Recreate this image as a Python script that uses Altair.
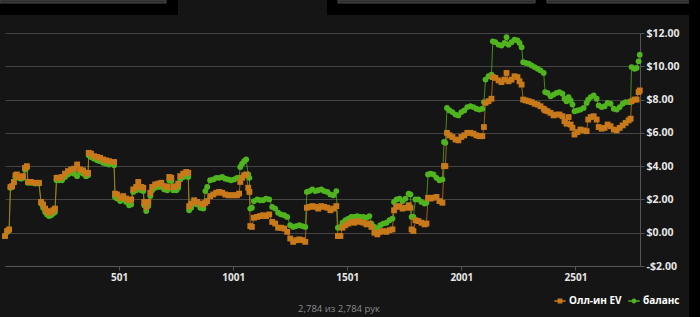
import altair as alt
import pandas as pd

# ---- data (hand number, all-in EV $, balance $) ----
hands = [1, 10, 19, 25, 32, 40, 47, 53, 62, 71, 80, 89, 97, 102, 115, 133, 150, 159, 168, 177,
         185, 194, 203, 212, 220, 227, 238, 251, 264, 277, 291, 304, 317, 330, 343, 356, 365, 368, 378, 391,
         405, 418, 431, 444, 457, 479, 483, 492, 506, 519, 532, 545, 554, 563, 576, 585, 598, 607, 611, 620,
         629, 638, 646, 659, 673, 686, 699, 712, 721, 730, 738, 752, 760, 769, 782, 795, 804, 808, 817, 830,
         843, 857, 870, 879, 887, 900, 914, 927, 940, 953, 966, 979, 992, 1005, 1018, 1027, 1032, 1040, 1049, 1058,
         1067, 1072, 1076, 1083, 1092, 1106, 1119, 1132, 1145, 1159, 1172, 1185, 1198, 1211, 1225, 1238, 1251, 1264, 1277, 1291,
         1304, 1317, 1324, 1335, 1348, 1361, 1374, 1387, 1400, 1414, 1427, 1440, 1453, 1460, 1471, 1480, 1493, 1506, 1519, 1532,
         1545, 1558, 1572, 1585, 1598, 1607, 1620, 1633, 1646, 1659, 1673, 1686, 1699, 1706, 1717, 1730, 1743, 1756, 1770, 1778,
         1783, 1791, 1800, 1813, 1826, 1840, 1848, 1855, 1866, 1879, 1892, 1905, 1918, 1925, 1931, 1938, 1949, 1962, 1975, 1988,
         2001, 2014, 2027, 2041, 2054, 2067, 2080, 2093, 2100, 2107, 2120, 2133, 2139, 2150, 2164, 2177, 2190, 2199, 2208, 2221,
         2234, 2247, 2256, 2265, 2272, 2283, 2296, 2309, 2322, 2335, 2348, 2362, 2368, 2379, 2392, 2405, 2418, 2431, 2444, 2453,
         2462, 2471, 2480, 2488, 2497, 2510, 2523, 2537, 2550, 2557, 2568, 2581, 2594, 2603, 2616, 2629, 2642, 2655, 2669, 2682,
         2695, 2708, 2721, 2734, 2743, 2747, 2760, 2769, 2778, 2783]

allin_ev = [-0.2, 0.1, 0.2, 2.75, 2.8, 3.05, 3.45, 3.5, 3.35, 3.35, 3.4, 3.9, 4.0, 3.05, 3.05, 3.0, 3.0, 1.85, 1.7, 1.45,
            1.3, 1.2, 1.25, 1.35, 1.45, 3.3, 3.3, 3.35, 3.55, 3.7, 3.8, 3.85, 4.1, 3.8, 3.75, 3.55, 3.6, 4.8, 4.75, 4.6,
            4.55, 4.5, 4.4, 4.35, 4.3, 4.25, 2.35, 2.3, 2.1, 2.2, 2.05, 1.95, 2.0, 2.6, 2.75, 3.05, 2.75, 2.7, 1.85, 1.55,
            1.85, 2.4, 2.75, 2.9, 2.95, 3.0, 2.8, 2.75, 3.35, 3.3, 2.75, 2.8, 2.95, 3.4, 3.55, 3.65, 3.6, 1.6, 1.75, 1.95,
            1.85, 1.75, 1.7, 1.8, 1.9, 2.2, 2.3, 2.4, 2.45, 2.4, 2.3, 2.25, 2.25, 2.25, 2.25, 2.35, 3.05, 3.3, 3.45, 3.5,
            2.7, 2.45, 0.4, 0.35, 0.9, 0.95, 1.0, 1.05, 1.0, 1.1, 0.65, 0.55, 0.3, 0.3, 0.25, 0.05, -0.35, -0.55, -0.45, -0.4,
            -0.45, -0.55, 1.5, 1.55, 1.6, 1.55, 1.45, 1.6, 1.55, 1.5, 1.35, 1.45, 1.6, -0.2, -0.2, 0.3, 0.45, 0.55, 0.65, 0.6,
            0.7, 0.65, 0.6, 0.5, 0.55, 0.35, 0.0, -0.1, 0.05, 0.1, 0.05, 0.15, 0.2, 1.35, 1.55, 1.6, 1.45, 1.5, 1.65, 1.5,
            0.2, 0.1, 0.75, 0.7, 0.6, 0.5, 0.55, 2.1, 2.05, 2.1, 2.15, 1.9, 1.8, 4.0, 4.0, 6.0, 5.85, 5.75, 5.6, 5.55,
            5.75, 5.85, 6.0, 6.0, 5.95, 5.85, 5.8, 5.8, 6.35, 7.8, 7.9, 8.05, 9.35, 9.3, 9.15, 9.05, 9.2, 9.6, 9.1, 9.2,
            9.4, 9.35, 9.1, 8.9, 8.0, 7.95, 7.9, 7.85, 7.75, 7.7, 7.6, 7.45, 7.35, 7.3, 7.2, 7.05, 7.1, 7.1, 7.0, 6.7,
            6.55, 6.95, 6.5, 6.3, 5.9, 6.05, 6.2, 6.15, 6.1, 6.8, 6.95, 7.0, 6.8, 6.35, 6.25, 6.3, 6.5, 6.4, 6.2, 6.15,
            6.3, 6.45, 6.6, 6.75, 6.85, 7.9, 8.0, 8.0, 8.45, 8.55]

balance = [-0.2, 0.05, 0.15, 2.7, 2.75, 3.0, 3.35, 3.4, 3.3, 3.25, 3.3, 3.8, 3.9, 3.0, 3.0, 2.95, 2.95, 1.75, 1.5, 1.25,
           1.1, 1.0, 1.05, 1.15, 1.25, 3.15, 3.15, 3.15, 3.35, 3.5, 3.6, 3.55, 3.4, 3.65, 3.55, 3.4, 3.45, 4.65, 4.55, 4.45,
           4.35, 4.3, 4.2, 4.15, 4.1, 4.05, 2.15, 2.05, 1.9, 2.0, 1.85, 1.65, 1.7, 2.45, 2.55, 2.8, 2.55, 2.5, 1.65, 1.3,
           1.6, 2.2, 2.55, 2.7, 2.75, 2.75, 2.6, 2.55, 3.15, 3.1, 2.55, 2.55, 2.7, 3.2, 3.35, 3.4, 3.35, 1.35, 1.5, 1.75,
           1.7, 1.5, 1.45, 2.5, 2.75, 3.15, 3.2, 3.3, 3.3, 3.35, 3.25, 3.2, 3.15, 3.2, 3.3, 3.3, 3.95, 4.15, 4.3, 4.4,
           3.5, 3.3, 1.45, 1.5, 1.9, 2.0, 1.95, 1.95, 2.05, 2.0, 1.55, 1.45, 1.2, 1.1, 1.05, 0.95, 0.45, 0.35, 0.4, 0.45,
           0.4, 0.35, 2.45, 2.5, 2.6, 2.5, 2.55, 2.6, 2.5, 2.45, 2.3, 2.25, 2.5, 0.3, 0.35, 0.6, 0.75, 0.85, 0.95, 0.95,
           1.0, 0.95, 0.95, 0.9, 1.0, 0.55, 0.35, 0.25, 0.45, 0.55, 0.6, 0.75, 0.85, 1.85, 2.0, 2.05, 1.9, 2.05, 2.35, 2.3,
           0.95, 0.95, 2.0, 2.0, 1.85, 1.75, 1.8, 3.5, 3.55, 3.5, 3.3, 3.15, 3.2, 5.45, 5.4, 7.5, 7.35, 7.25, 7.1, 7.05,
           7.25, 7.35, 7.55, 7.6, 7.55, 7.45, 7.4, 7.45, 7.85, 9.2, 9.4, 9.5, 11.5, 11.45, 11.3, 11.25, 11.4, 11.75, 11.3, 11.45,
           11.6, 11.55, 11.4, 11.15, 10.25, 10.2, 10.15, 10.05, 9.95, 9.85, 9.75, 9.6, 8.45, 8.4, 8.2, 8.3, 8.4, 8.45, 8.35, 8.05,
           7.9, 8.15, 7.95, 7.7, 7.3, 7.35, 7.4, 7.5, 7.8, 8.0, 8.15, 8.25, 8.05, 7.65, 7.55, 7.6, 7.8, 7.75, 7.45, 7.4,
           7.55, 7.75, 7.85, 7.85, 7.85, 9.95, 9.85, 9.9, 10.3, 10.7]

series_names = ["Олл-ин EV", "баланс"]
series_colors = ["#c8791a", "#4fb41e"]
x_ticks = [501, 1001, 1501, 2001, 2501]
y_ticks = [-2, 0, 2, 4, 6, 8, 10, 12]
footer = "2,784 из 2,784 рук"

rows = []
for h, v in zip(hands, balance):
    rows.append({"hand": h, "value": v, "series": series_names[1], "z": 0})
for h, v in zip(hands, allin_ev):
    rows.append({"hand": h, "value": v, "series": series_names[0], "z": 1})
df = pd.DataFrame(rows)

FONT = "Open Sans"
W, H = 635, 233

SQ_PATH = "M-1,-0.12H1V0.12H-1Z M-0.42,-0.42H0.42V0.42H-0.42Z"
CI_PATH = "M-1,-0.12H1V0.12H-1Z M-0.42,0A0.42,0.42,0,1,1,0.42,0A0.42,0.42,0,1,1,-0.42,0Z"

x_enc = alt.X("hand:Q", scale=alt.Scale(domain=[1, 2784], nice=False, zero=False),
              axis=alt.Axis(values=x_ticks, format="d", title=None, grid=False, domain=True,
                            domainColor="#555555", tickColor="#555555", tickSize=4,
                            labelColor="#e6e6e6", labelFont=FONT, labelFontSize=10,
                            labelFontWeight="bold", labelPadding=2))
y_enc = alt.Y("value:Q", scale=alt.Scale(domain=[-2, 12], nice=False, zero=False),
              axis=alt.Axis(orient="right", values=y_ticks, title=None, grid=True,
                            gridColor="#444444", gridWidth=1, domain=True,
                            domainColor="#555555", tickColor="#555555", tickSize=4,
                            labelColor="#e6e6e6", labelFont=FONT, labelFontSize=10.5,
                            labelFontWeight="bold", labelPadding=2,
                            labelExpr="datum.value < 0 ? '-$' + format(-datum.value, '.2f') : '$' + format(datum.value, '.2f')"))

color_plain = alt.Color("series:N", scale=alt.Scale(domain=series_names, range=series_colors), legend=None)
shape_plain = alt.Shape("series:N", scale=alt.Scale(domain=series_names, range=["square", "circle"]), legend=None)

base = alt.Chart(df)
lines = base.mark_line(strokeWidth=1, opacity=0.75).encode(
    x=x_enc, y=y_enc, color=color_plain, detail="series:N")
points = base.mark_point(filled=True, size=34, opacity=1).encode(
    x=x_enc, y=y_enc, color=color_plain, shape=shape_plain, order=alt.Order("z:Q"))

# legend-only layer (marks placed off canvas); symbols are line + marker
legend = alt.Legend(
    title=None, orient="none", legendX=549, legendY=262, direction="horizontal",
    labelColor="#ffffff", labelFont=FONT, labelFontSize=10, labelFontWeight="bold",
    symbolSize=130, columnPadding=6, labelOffset=3, symbolStrokeWidth=0,
)
leg_layer = alt.Chart(pd.DataFrame({"key": series_names})).mark_point(filled=True, opacity=1).encode(
    x=alt.value(-200), y=alt.value(-200),
    color=alt.Color("key:N", scale=alt.Scale(domain=series_names, range=series_colors), legend=legend),
    shape=alt.Shape("key:N", scale=alt.Scale(domain=series_names, range=[SQ_PATH, CI_PATH]), legend=legend),
)

one = pd.DataFrame({"a": [0]})
def box(x, x2, y, y2, fill, stroke=None):
    kw = {"fill": fill}
    if stroke:
        kw["stroke"] = stroke
        kw["strokeWidth"] = 1
    return alt.Chart(one).mark_rect(**kw).encode(
        x=alt.value(x), x2=alt.value(x2), y=alt.value(y), y2=alt.value(y2))

decor = [
    box(-5, 695, -33, -18, "#000000"),
    box(-5, 161, -33, -30, "#2a2a2a", "#4a4a4a"),
    box(333, 530, -33, -30, "#2a2a2a", "#4a4a4a"),
    box(542, 685, -33, -30, "#2a2a2a", "#4a4a4a"),
    box(173, 322, -33, -18, "#151515"),
    box(684, 695, -33, 284, "#000000"),
]

foot = alt.Chart(pd.DataFrame({"t": [footer]})).mark_text(
    font=FONT, fontSize=9.5, color="#8a8a8a", align="center", baseline="middle"
).encode(text="t:N", x=alt.value(334), y=alt.value(276))

chart = alt.layer(*decor, lines, points, leg_layer, foot).resolve_scale(
    color="independent", shape="independent"
).properties(
    width=W, height=H,
    autosize=alt.AutoSizeParams(type="none"),
    padding={"left": 5, "top": 33, "right": 60, "bottom": 51},
    background="#151515",
).configure_view(stroke=None)

chart.save("out.html", embed_options={"renderer": "svg", "actions": False})
